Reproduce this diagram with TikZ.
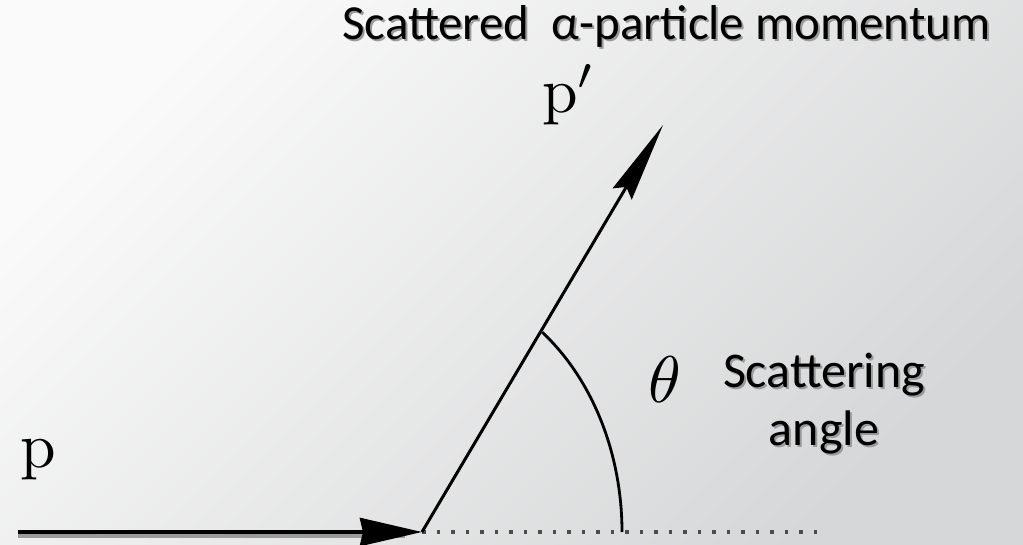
\documentclass[tikz,border=0pt]{standalone}
\usepackage{graphicx}
\usepackage{fontspec}
\newfontfamily\carl{Carlito}
\usetikzlibrary{arrows.meta}
\definecolor{bgA}{HTML}{FAFAFA}
\definecolor{bgB}{HTML}{D6D7D8}
\definecolor{shad}{HTML}{9A9A9A}
\newcommand\shtxt[1]{\leavevmode\rlap{\kern2pt\raisebox{-2pt}{\textcolor{shad}{#1}}}#1}
\begin{document}
\begin{tikzpicture}[x=1pt,y=1pt,
  title/.style={font=\carl\fontsize{49}{54}\selectfont, inner sep=0pt, anchor=base west},
  lab/.style={font=\carl\fontsize{50}{57}\selectfont, inner sep=0pt, anchor=base},
  serif/.style={font=\fontsize{10}{12}\selectfont, inner sep=0pt, anchor=base west},
  vec/.style={line width=3pt, black},
  inc/.style={line width=4pt, black},
  dots/.style={line width=3.5pt, black!70, dash pattern=on 3.5pt off 11pt},
  angarc/.style={line width=2.8pt, black}]
\shade[top color=bgA, bottom color=bgB, shading angle=45] (0,0) rectangle (1023,544);
\useasboundingbox (0,0) rectangle (1023,544);

\coordinate (V) at (422,12);
\coordinate (S) at (18,12);
\coordinate (T) at (663,419);
\coordinate (D) at (823,12);
\coordinate (A0) at (622,12);
\coordinate (SS) at (18,8);
\coordinate (SE) at (405,8);

% incoming momentum (with shadow)
\draw[line width=4pt, shad] (SS) -- (SE);
\draw[inc, -{Stealth[length=62pt,width=28pt,inset=3pt]}] (S) -- (V);
% dotted continuation
\draw[dots] (V) -- (D);
% scattered momentum
\draw[vec, -{Stealth[length=80pt,width=22pt,inset=8pt]}] (V) -- (T);
% angle arc
\draw[angarc] (A0) arc[start angle=0, end angle=53, x radius=200, y radius=250];

% labels
\node[serif] (p) at (20,77) {\scalebox{6.4}{p}};
\node[serif] (pp) at (542,431) {\smash{\scalebox{6.4}{$\mathrm{p}'$}}};
\node[serif] (th) at (648,142) {\scalebox{6.6}{$\theta$}};

\node[title] (t1) at (342,504) {\shtxt{Scattered\ \ α-particle momentum}};

\node[lab] (l1a) at (824,156) {\shtxt{Scattering}};
\node[lab] (l1b) at (824,99) {\shtxt{angle}};
\end{tikzpicture}
\end{document}
